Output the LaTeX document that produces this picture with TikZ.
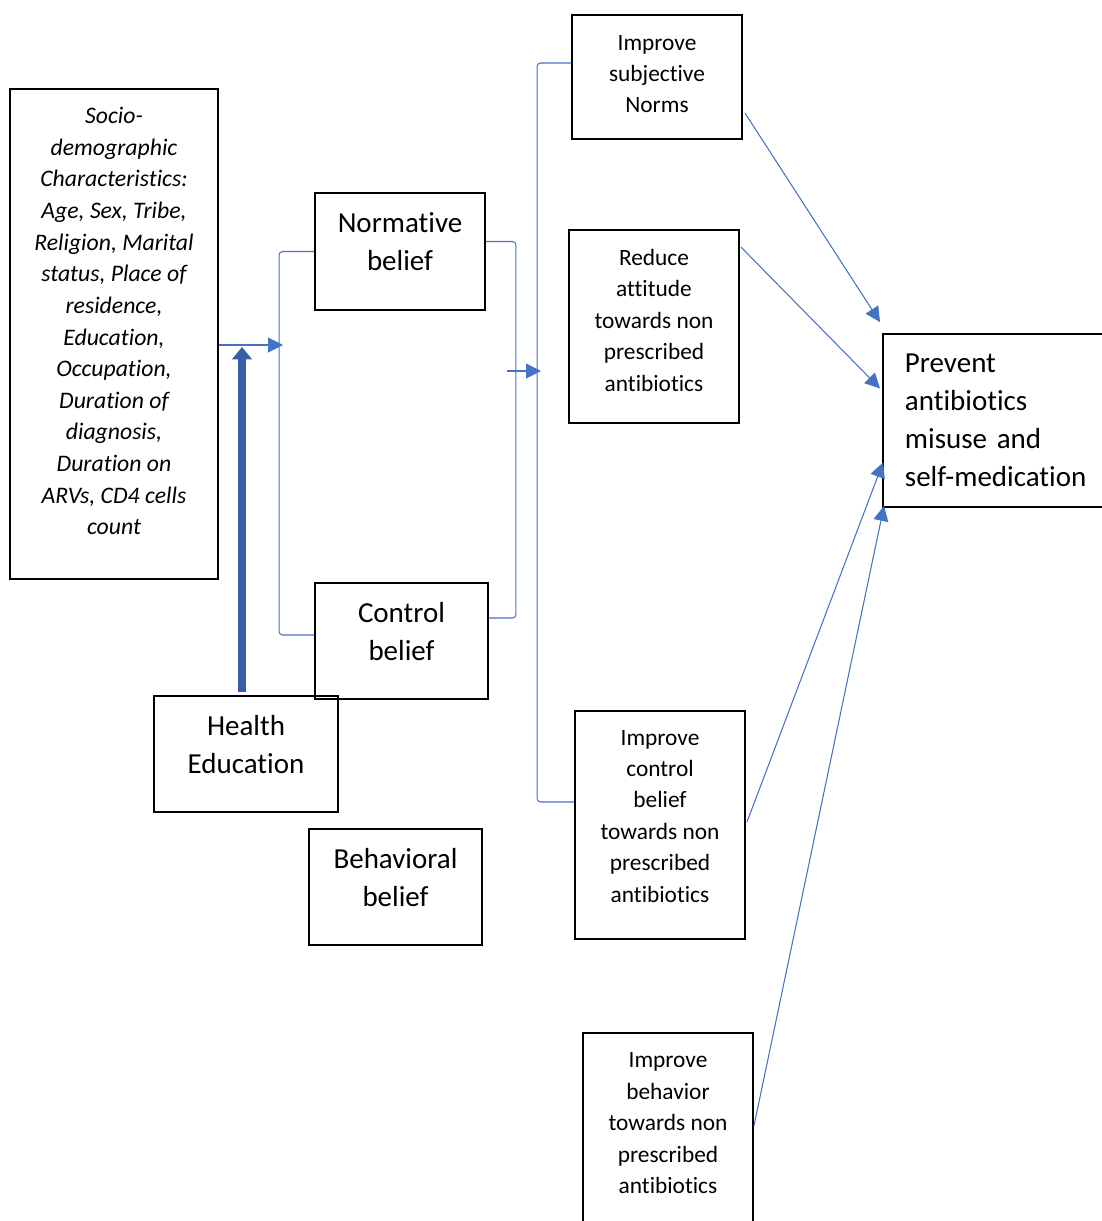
\documentclass[tikz,border=0pt]{standalone}
\usepackage{fontspec}
\setmainfont{Carlito}[Ligatures={NoCommon}]
\usetikzlibrary{arrows.meta, calc}
\definecolor{linkblue}{HTML}{4472C4}
\definecolor{edublue}{HTML}{3560A8}

\begin{document}
\begin{tikzpicture}[
        x=0.02cm, y=-0.02cm,
        >={Triangle[length=8.5pt, width=8.5pt]},
        box/.style={draw, line width=1.1pt, align=center, inner sep=0pt},
        bigtext/.style={font=\fontsize{16.5}{21.6}\selectfont},
        smalltext/.style={font=\fontsize{13.3}{17.9}\selectfont},
        link/.style={draw=linkblue, line width=0.6pt},
        bracket/.style={link, rounded corners=2pt},
        bigarrow/.style={draw=edublue, line width=4.5pt,
            -{Triangle[length=7pt, width=11pt]}}
    ]
    \useasboundingbox (0,0) rectangle (1102,1221);

    % left column
    \node[box, font=\fontsize{13.5}{18}\selectfont\itshape,
        minimum width=4.16cm, minimum height=9.8cm, text depth=14.7pt] (socio) at (114,334)
        {Socio-\\demographic\\Characteristics:\\Age, Sex, Tribe,\\Religion, Marital\\status, Place of\\residence,\\Education,\\Occupation,\\Duration of\\diagnosis,\\Duration on\\ARVs, CD4 cells\\count};

    % beliefs
    \node[box, bigtext, minimum width=3.4cm, minimum height=2.34cm, text depth=11pt] (norm) at (400,251.5) {Normative\\belief};
    \node[box, bigtext, minimum width=3.46cm, minimum height=2.32cm, text depth=11pt] (ctrl) at (401.5,641) {Control\\belief};
    \node[box, bigtext, minimum width=3.68cm, minimum height=2.32cm, text depth=11pt] (health) at (246,754) {Health\\Education};
    \node[box, bigtext, minimum width=3.46cm, minimum height=2.32cm, text depth=11pt] (behav) at (395.5,887) {Behavioral\\belief};

    % outcomes
    \node[box, smalltext, minimum width=3.4cm, minimum height=2.48cm, text depth=3.4pt] (norms) at (657,77) {Improve\\subjective\\Norms};
    \node[box, smalltext, minimum width=3.4cm, minimum height=3.86cm, text depth=7.4pt] (attit) at (654,326.5) {Reduce\\attitude\\towards non\\prescribed\\antibiotics};
    \node[box, smalltext, minimum width=3.4cm, minimum height=4.56cm, text depth=10pt] (ctrlimp) at (660,825) {Improve\\control\\belief\\towards non\\prescribed\\antibiotics};
    \node[box, smalltext, minimum width=3.4cm, minimum height=4.8cm, text depth=34pt, anchor=north] (behimp) at (668,1032) {Improve\\behavior\\towards non\\prescribed\\antibiotics};

    \node[box, bigtext, align=left, anchor=west, text width=4cm, inner xsep=0.44cm, minimum height=3.46cm] (prev) at (882,420.5) {Prevent\\antibiotics\\misuse and\\self-medication};

    \coordinate (sociotip) at (283,345);
    \coordinate (midstart) at (507,371);
    \coordinate (midtip) at (541,371);
    \coordinate (edutip) at (242,347);

    % brackets
    \draw[link, ->] ($(socio.east)+(0,11)$) -- (sociotip);
    \draw[bracket] (norm.west) -- ++(-35,0) |- ($(ctrl.west)+(0,-6)$);
    \draw[bracket] ($(norm.east)+(0,-10)$) -- ++(30,0) |- ($(ctrl.east)+(0,-23)$);
    \draw[link, ->] (midstart) -- (midtip);
    \draw[bracket] ($(norms.west)+(0,-14)$) -- ++(-34,0) |- ($(ctrlimp.west)+(0,-23)$);
    \draw[bigarrow] ($(health.north)+(-4,-3)$) -- (edutip);

    % arrows to outcome
    \draw[link, ->] ($(norms.east)+(2,36)$) -- ($(prev.north west)+(-2,-11)$);
    \draw[link, ->] ($(attit.north east)+(1,18)$) -- ($(prev.west)+(-2,-32)$);
    \draw[link, ->] ($(ctrlimp.east)+(1,-3)$) -- ($(prev.west)+(1,42)$);
    \draw[link, ->] ($(behimp.east)+(0,-27)$) -- ($(prev.south west)+(2,-2)$);
\end{tikzpicture}
\end{document}
